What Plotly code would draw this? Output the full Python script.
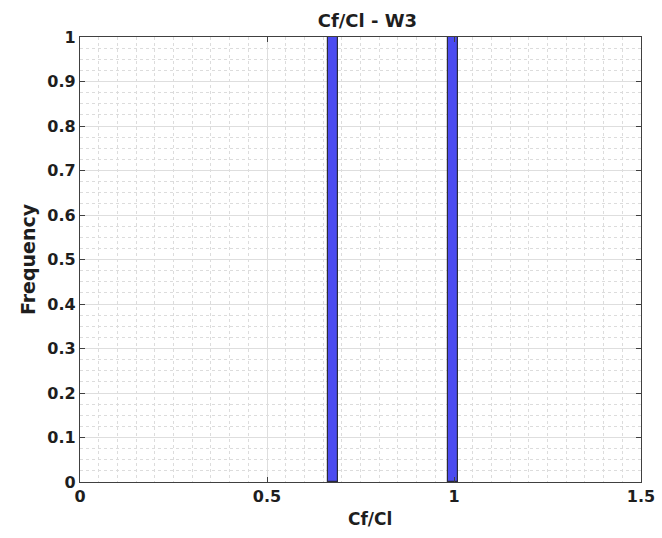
import plotly.graph_objects as go

# Data
bin_centers = [0.676, 0.998]
frequencies = [1.0, 1.0]
bin_width = 0.026

x_tick_vals = [0, 0.5, 1, 1.5]
x_tick_text = ["0", "0.5", "1", "1.5"]
y_tick_vals = [0, 0.1, 0.2, 0.3, 0.4, 0.5, 0.6, 0.7, 0.8, 0.9, 1]
y_tick_text = ["0", "0.1", "0.2", "0.3", "0.4", "0.5", "0.6", "0.7", "0.8", "0.9", "1"]

title_text = "Cf/Cl - W3"
x_label = "Cf/Cl"
y_label = "Frequency"

FONT = "DejaVu Sans, Liberation Sans, Arial, sans-serif"
INK = "#1e1e1e"

fig = go.Figure()
fig.add_trace(go.Bar(
    x=bin_centers,
    y=frequencies,
    width=[bin_width] * len(bin_centers),
    marker=dict(color="#4b4bf0", line=dict(color="#2a2a3a", width=1.2)),
    showlegend=False,
))

axis_common = dict(
    showline=True, linecolor="#404040", linewidth=1.2, mirror="ticks",
    ticks="inside", ticklen=5, tickcolor="#404040", tickwidth=1,
    showgrid=True, gridcolor="#dedede", gridwidth=1,
    zeroline=False,
    tickfont=dict(family=FONT, size=16, color=INK, weight="bold"),
)

fig.update_xaxes(
    range=[0, 1.5], tickvals=x_tick_vals, ticktext=x_tick_text,
    minor=dict(dtick=0.05, showgrid=True, gridcolor="#dcdcdc", griddash="dot", gridwidth=1),
    **axis_common,
)
fig.update_yaxes(
    range=[0, 1], tickvals=y_tick_vals, ticktext=y_tick_text,
    title=dict(text=y_label, font=dict(family=FONT, size=19, color=INK, weight="bold"), standoff=6),
    minor=dict(dtick=0.025, showgrid=True, gridcolor="#dcdcdc", griddash="dot", gridwidth=1),
    **axis_common,
)

fig.add_annotation(
    text=x_label, xref="paper", yref="paper", x=0.517, y=0,
    xanchor="center", yanchor="middle", yshift=-37, showarrow=False,
    font=dict(family=FONT, size=17, color=INK, weight="bold"),
)

fig.update_layout(
    width=662, height=538,
    margin=dict(l=80, r=21, t=37, b=56, autoexpand=False),
    paper_bgcolor="white", plot_bgcolor="white",
    title=dict(text=title_text, x=0.555, xanchor="center", y=0.962, yanchor="middle",
               font=dict(family=FONT, size=18, color=INK, weight="bold")),
    bargap=0,
)

fig.write_html("out.html", config={"displayModeBar": False},
               post_script="document.body.style.margin='0';")
